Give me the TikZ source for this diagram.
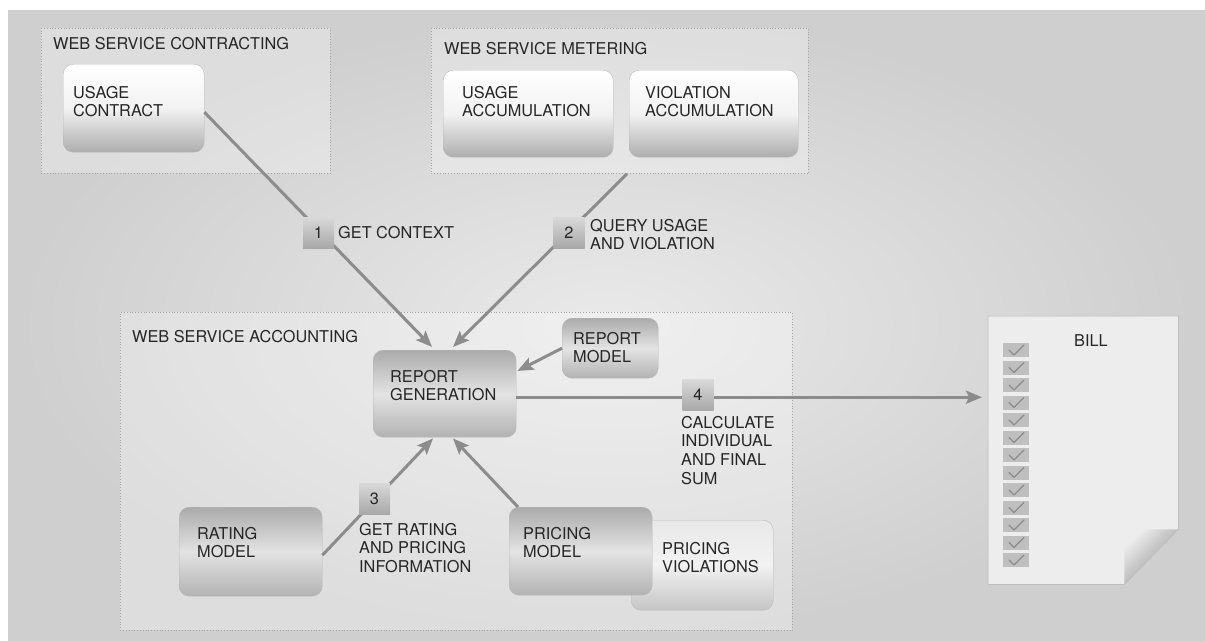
\documentclass[tikz,border=0pt]{standalone}
\usepackage{fontspec}
\setmainfont{TeX Gyre Heros}
\usetikzlibrary{arrows.meta}
\begin{document}
\begin{tikzpicture}[x=1pt,y=-1pt,
  txt/.style={inner sep=0pt, align=left, text=black!85, font=\fontsize{16.3}{18.6}\selectfont},
  group/.style={draw=gray!70, dotted, line width=0.8pt, fill=white, fill opacity=0.3, anchor=north west, inner sep=0pt},
  boxbase/.style={rounded corners=10pt, draw=gray!55, line width=0.4pt, anchor=north west, inner sep=0pt},
  lightbox/.style={boxbase, top color=white, bottom color=gray!64, middle color=gray!10},
  darkbox/.style={boxbase, top color=gray!66, bottom color=gray!60, middle color=gray!22},
  softbox/.style={boxbase, top color=gray!18, bottom color=gray!46, middle color=gray!10},
  badge/.style={minimum size=31pt, inner sep=0pt, top color=gray!30, bottom color=gray!68,
                text=black!85, font=\fontsize{16.3}{18.6}\selectfont},
  flow/.style={draw=gray!90, line width=3pt, -{Stealth[length=16pt,width=13pt,inset=3pt]}}
]
\useasboundingbox (0,0) rectangle (1205,640);
% backdrop
\shade[inner color=gray!17, outer color=gray!38] (8,10) rectangle (1205,640);

% ---------- contracting ----------
\node[group, minimum width=289pt, minimum height=145pt] (contract) at (41,28) {};
\node[txt, anchor=west] (contractT) at (53,44) {WEB SERVICE CONTRACTING};
\node[lightbox, minimum width=141pt, minimum height=88pt] (uc) at (63,64) {};
\node[txt, anchor=north west] (ucT) at (73,86) {USAGE\\CONTRACT};

% ---------- metering ----------
\node[group, minimum width=377pt, minimum height=145pt] (meter) at (431,28) {};
\node[txt, anchor=west] (meterT) at (444,49) {WEB SERVICE METERING};
\node[lightbox, minimum width=170pt, minimum height=87pt] (ua) at (443,70) {};
\node[txt, anchor=north west] (uaT) at (462,86) {USAGE\\ACCUMULATION};
\node[lightbox, minimum width=169pt, minimum height=87pt] (va) at (629,70) {};
\node[txt, anchor=north west] (vaT) at (645,86) {VIOLATION\\ACCUMULATION};

% ---------- accounting ----------
\node[group, minimum width=672pt, minimum height=318pt] (acct) at (120,312) {};
\node[txt, anchor=west] (acctT) at (132,337) {WEB SERVICE ACCOUNTING};
\node[darkbox, minimum width=143pt, minimum height=87pt] (rg) at (373,350) {};
\node[txt, anchor=north west] (rgT) at (390,370) {REPORT\\GENERATION};
\node[darkbox, minimum width=96pt, minimum height=60pt] (rmod) at (562,318) {};
\node[txt, anchor=north west] (rmodT) at (573,332) {REPORT\\MODEL};
\node[darkbox, minimum width=143pt, minimum height=89pt] (rate) at (179,507) {};
\node[txt, anchor=north west] (rateT) at (197,527) {RATING\\MODEL};
\node[softbox, minimum width=142pt, minimum height=90pt] (pv) at (631,520) {};
\node[txt, anchor=north west] (pvT) at (662,542) {PRICING\\VIOLATIONS};
\node[darkbox, minimum width=143pt, minimum height=88pt] (pm) at (509,507) {};
\node[txt, anchor=north west] (pmT) at (523,527) {PRICING\\MODEL};

% ---------- bill ----------
\node[inner sep=0pt, minimum width=190pt, minimum height=268pt, anchor=north west] (bill) at (988,316) {};
\filldraw[fill=gray!14, draw=gray!60, line width=0.5pt]
  (bill.north west) -- (bill.north east) -- ([yshift=55pt]bill.south east)
  -- ([xshift=-54pt]bill.south east) -- (bill.south west) -- cycle;
\shade[top color=gray!14, bottom color=gray!88, shading angle=45]
  ([xshift=-54pt,yshift=55pt]bill.south east) -- ([yshift=55pt]bill.south east)
  -- ([xshift=-54pt]bill.south east) -- cycle;
\node[txt, anchor=west] (billT) at (1074,341) {BILL};
\foreach \i in {0,...,12}{
  \fill[gray!50] (1003,343+17.5*\i) rectangle (1029,357+17.5*\i);
  \draw[gray!90, line width=1.3pt, line cap=round, line join=round]
    (1009,350+17.5*\i) -- (1014,355+17.5*\i) -- (1024,345+17.5*\i);
}

% ---------- connectors ----------
\coordinate (rgout) at ([yshift=-3.5pt]rg.east);
\coordinate (billin) at ([xshift=-6pt]bill.west |- rgout);
\draw[flow] ([yshift=-4pt]uc.east) -- ([xshift=59pt,yshift=3pt]rg.north west);
\draw[flow] ([xshift=196pt]meter.south west) -- ([xshift=80pt,yshift=3pt]rg.north west);
\draw[flow] (rmod.west) -- ([xshift=1pt,yshift=-21pt]rg.north east);
\draw[flow] ([yshift=-3.5pt]rate.east) -- ([xshift=60pt,yshift=-1pt]rg.south west);
\draw[flow] ([xshift=9pt]pm.north west) -- ([xshift=80pt,yshift=-1pt]rg.south west);
\draw[flow] (rgout) -- (billin);

% ---------- step badges ----------
\node[badge] (b1) at (318.5,232.5) {1};
\node[txt, anchor=west] (b1T) at (338,233) {GET CONTEXT};
\node[badge] (b2) at (569,232.5) {2};
\node[txt, anchor=north west] (b2T) at (590,219) {QUERY USAGE\\AND VIOLATION};
\node[badge] (b3) at (374.5,498.5) {3};
\node[txt, anchor=north west] (b3T) at (359,523) {GET RATING\\AND PRICING\\INFORMATION};
\node[badge] (b4) at (698,395) {4};
\node[txt, anchor=north west] (b4T) at (681,416) {CALCULATE\\INDIVIDUAL\\AND FINAL\\SUM};
\end{tikzpicture}
\end{document}
